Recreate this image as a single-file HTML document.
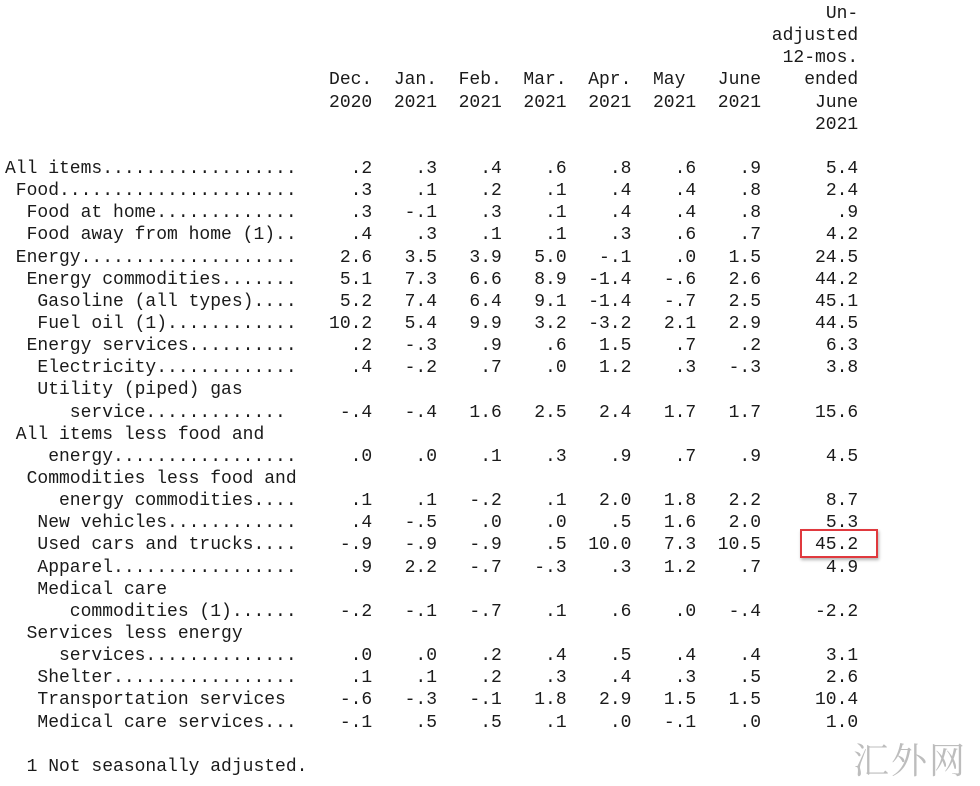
<!DOCTYPE html>
<html><head><meta charset="utf-8"><style>
body{margin:0;background:#fff;width:980px;height:786px;overflow:hidden;position:relative}
.t{position:absolute;left:5px;top:3px;font-family:"Liberation Mono",monospace;font-size:18px;line-height:22.15px;color:#1a1a1a}
.r{height:22.15px;white-space:pre}
.l{display:inline-block;width:28ch}
.v{display:inline-block;width:6ch;text-align:right}
.w{display:inline-block;width:9ch;text-align:right}
.box{position:absolute;left:800px;top:529px;width:74px;height:25px;border:2px solid #e0393e;box-shadow:1px 2px 3px rgba(0,0,0,.3)}
.wm{position:absolute;left:853px;top:733px;font-family:"Noto Serif CJK SC",serif;font-size:36px;color:#bdbdbd;letter-spacing:2px}
</style></head><body>
<div class="t"><div class="r"><span class="l"></span><span class="v"></span><span class="v"></span><span class="v"></span><span class="v"></span><span class="v"></span><span class="v"></span><span class="v"></span><span class="w">Un-</span></div><div class="r"><span class="l"></span><span class="v"></span><span class="v"></span><span class="v"></span><span class="v"></span><span class="v"></span><span class="v"></span><span class="v"></span><span class="w">adjusted</span></div><div class="r"><span class="l"></span><span class="v"></span><span class="v"></span><span class="v"></span><span class="v"></span><span class="v"></span><span class="v"></span><span class="v"></span><span class="w">12-mos.</span></div><div class="r"><span class="l"></span><span class="v">Dec.</span><span class="v">Jan.</span><span class="v">Feb.</span><span class="v">Mar.</span><span class="v">Apr.</span><span class="v">May </span><span class="v">June</span><span class="w">ended</span></div><div class="r"><span class="l"></span><span class="v">2020</span><span class="v">2021</span><span class="v">2021</span><span class="v">2021</span><span class="v">2021</span><span class="v">2021</span><span class="v">2021</span><span class="w">June</span></div><div class="r"><span class="l"></span><span class="v"></span><span class="v"></span><span class="v"></span><span class="v"></span><span class="v"></span><span class="v"></span><span class="v"></span><span class="w">2021</span></div><div class="r"></div><div class="r"><span class="l">All items..................</span><span class="v">.2</span><span class="v">.3</span><span class="v">.4</span><span class="v">.6</span><span class="v">.8</span><span class="v">.6</span><span class="v">.9</span><span class="w">5.4</span></div><div class="r"><span class="l"> Food......................</span><span class="v">.3</span><span class="v">.1</span><span class="v">.2</span><span class="v">.1</span><span class="v">.4</span><span class="v">.4</span><span class="v">.8</span><span class="w">2.4</span></div><div class="r"><span class="l">  Food at home.............</span><span class="v">.3</span><span class="v">-.1</span><span class="v">.3</span><span class="v">.1</span><span class="v">.4</span><span class="v">.4</span><span class="v">.8</span><span class="w">.9</span></div><div class="r"><span class="l">  Food away from home (1)..</span><span class="v">.4</span><span class="v">.3</span><span class="v">.1</span><span class="v">.1</span><span class="v">.3</span><span class="v">.6</span><span class="v">.7</span><span class="w">4.2</span></div><div class="r"><span class="l"> Energy....................</span><span class="v">2.6</span><span class="v">3.5</span><span class="v">3.9</span><span class="v">5.0</span><span class="v">-.1</span><span class="v">.0</span><span class="v">1.5</span><span class="w">24.5</span></div><div class="r"><span class="l">  Energy commodities.......</span><span class="v">5.1</span><span class="v">7.3</span><span class="v">6.6</span><span class="v">8.9</span><span class="v">-1.4</span><span class="v">-.6</span><span class="v">2.6</span><span class="w">44.2</span></div><div class="r"><span class="l">   Gasoline (all types)....</span><span class="v">5.2</span><span class="v">7.4</span><span class="v">6.4</span><span class="v">9.1</span><span class="v">-1.4</span><span class="v">-.7</span><span class="v">2.5</span><span class="w">45.1</span></div><div class="r"><span class="l">   Fuel oil (1)............</span><span class="v">10.2</span><span class="v">5.4</span><span class="v">9.9</span><span class="v">3.2</span><span class="v">-3.2</span><span class="v">2.1</span><span class="v">2.9</span><span class="w">44.5</span></div><div class="r"><span class="l">  Energy services..........</span><span class="v">.2</span><span class="v">-.3</span><span class="v">.9</span><span class="v">.6</span><span class="v">1.5</span><span class="v">.7</span><span class="v">.2</span><span class="w">6.3</span></div><div class="r"><span class="l">   Electricity.............</span><span class="v">.4</span><span class="v">-.2</span><span class="v">.7</span><span class="v">.0</span><span class="v">1.2</span><span class="v">.3</span><span class="v">-.3</span><span class="w">3.8</span></div><div class="r"><span class="l">   Utility (piped) gas</span></div><div class="r"><span class="l">      service.............</span><span class="v">-.4</span><span class="v">-.4</span><span class="v">1.6</span><span class="v">2.5</span><span class="v">2.4</span><span class="v">1.7</span><span class="v">1.7</span><span class="w">15.6</span></div><div class="r"><span class="l"> All items less food and</span></div><div class="r"><span class="l">    energy.................</span><span class="v">.0</span><span class="v">.0</span><span class="v">.1</span><span class="v">.3</span><span class="v">.9</span><span class="v">.7</span><span class="v">.9</span><span class="w">4.5</span></div><div class="r"><span class="l">  Commodities less food and</span></div><div class="r"><span class="l">     energy commodities....</span><span class="v">.1</span><span class="v">.1</span><span class="v">-.2</span><span class="v">.1</span><span class="v">2.0</span><span class="v">1.8</span><span class="v">2.2</span><span class="w">8.7</span></div><div class="r"><span class="l">   New vehicles............</span><span class="v">.4</span><span class="v">-.5</span><span class="v">.0</span><span class="v">.0</span><span class="v">.5</span><span class="v">1.6</span><span class="v">2.0</span><span class="w">5.3</span></div><div class="r"><span class="l">   Used cars and trucks....</span><span class="v">-.9</span><span class="v">-.9</span><span class="v">-.9</span><span class="v">.5</span><span class="v">10.0</span><span class="v">7.3</span><span class="v">10.5</span><span class="w">45.2</span></div><div class="r"><span class="l">   Apparel.................</span><span class="v">.9</span><span class="v">2.2</span><span class="v">-.7</span><span class="v">-.3</span><span class="v">.3</span><span class="v">1.2</span><span class="v">.7</span><span class="w">4.9</span></div><div class="r"><span class="l">   Medical care</span></div><div class="r"><span class="l">      commodities (1)......</span><span class="v">-.2</span><span class="v">-.1</span><span class="v">-.7</span><span class="v">.1</span><span class="v">.6</span><span class="v">.0</span><span class="v">-.4</span><span class="w">-2.2</span></div><div class="r"><span class="l">  Services less energy</span></div><div class="r"><span class="l">     services..............</span><span class="v">.0</span><span class="v">.0</span><span class="v">.2</span><span class="v">.4</span><span class="v">.5</span><span class="v">.4</span><span class="v">.4</span><span class="w">3.1</span></div><div class="r"><span class="l">   Shelter.................</span><span class="v">.1</span><span class="v">.1</span><span class="v">.2</span><span class="v">.3</span><span class="v">.4</span><span class="v">.3</span><span class="v">.5</span><span class="w">2.6</span></div><div class="r"><span class="l">   Transportation services</span><span class="v">-.6</span><span class="v">-.3</span><span class="v">-.1</span><span class="v">1.8</span><span class="v">2.9</span><span class="v">1.5</span><span class="v">1.5</span><span class="w">10.4</span></div><div class="r"><span class="l">   Medical care services...</span><span class="v">-.1</span><span class="v">.5</span><span class="v">.5</span><span class="v">.1</span><span class="v">.0</span><span class="v">-.1</span><span class="v">.0</span><span class="w">1.0</span></div><div class="r"></div><div class="r">  1 Not seasonally adjusted.</div></div>
<div class="box"></div>
<div class="wm">汇外网</div>
</body></html>
